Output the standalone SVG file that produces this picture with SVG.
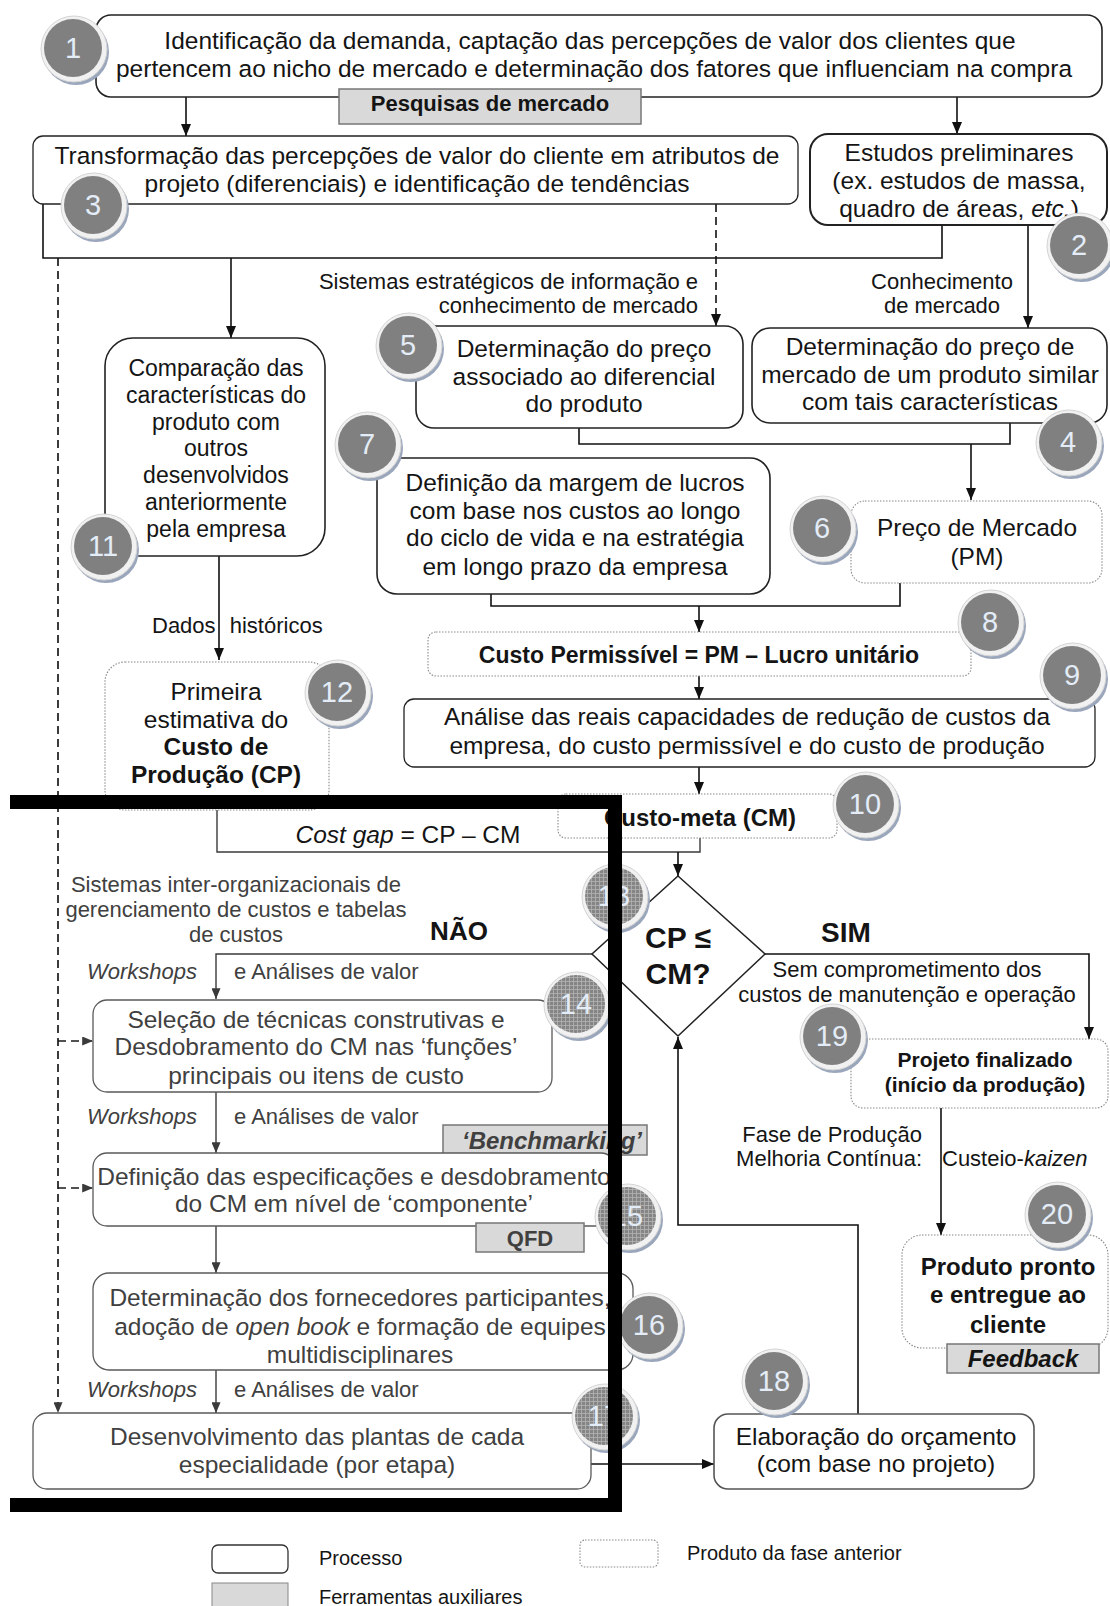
<svg xmlns="http://www.w3.org/2000/svg" xmlns:xlink="http://www.w3.org/1999/xlink" width="1110" height="1606" viewBox="0 0 1110 1606">
  <style>
    text { font-family: "Liberation Sans", Arial, sans-serif; fill: #141414; text-anchor: middle; }
    .t { font-size: 24.5px; }
    .lbl { font-size: 22px; }
    .b { font-weight: bold; }
    .i { font-style: italic; }
    .dim { fill: #404040; }
    .num { font-size: 29px; fill: #e3ecf7; }
    .proc { fill: #fff; stroke: #222; stroke-width: 1.6; }
    .procg { fill: #fff; stroke: #5a5a5a; stroke-width: 1.3; }
    .prod { fill: #fff; stroke: #8a8a8a; stroke-width: 1.1; stroke-dasharray: 1.5 1.5; }
    .tool { fill: #d9d9d9; stroke: #777; stroke-width: 1.5; }
    .ln { fill: none; stroke: #111; stroke-width: 1.6; }
    .lng { fill: none; stroke: #3a3a3a; stroke-width: 1.4; }
    .lnd { fill: none; stroke: #1a1a1a; stroke-width: 1.7; stroke-dasharray: 8 5; }
    .arr { marker-end: url(#ah); }
    .arrg { marker-end: url(#ahg); }
    .dash { stroke-dasharray: 8 5; }
    .bar { fill: #000; }
  </style>
  <defs>
    <marker id="ah" viewBox="0 0 12 10" refX="12" refY="5" markerWidth="12" markerHeight="10" markerUnits="userSpaceOnUse" orient="auto">
      <path d="M0,0 L12,5 L0,10 z" fill="#111"/>
    </marker>
    <marker id="ahg" viewBox="0 0 12 10" refX="12" refY="5" markerWidth="11" markerHeight="9" markerUnits="userSpaceOnUse" orient="auto">
      <path d="M0,0 L12,5 L0,10 z" fill="#3a3a3a"/>
    </marker>
    <pattern id="mesh" width="4" height="4" patternUnits="userSpaceOnUse">
      <rect width="4" height="4" fill="#858585"/>
      <path d="M0,0.5 H4 M0.5,0 V4" stroke="#b4b4b4" stroke-width="0.8"/>
    </pattern>
    <!-- numbered badge: shadow, light ring, grey disc -->
    <g id="badge">
      <circle cx="2" cy="3" r="33" fill="#9aa6bb"/>
      <circle cx="0" cy="0" r="33" fill="#f1f1f1" stroke="#d4d4d4" stroke-width="1"/>
      <circle cx="-1" cy="-1" r="29" fill="#808080"/>
    </g>
    <g id="badgeMesh">
      <circle cx="2" cy="3" r="33" fill="#9aa6bb"/>
      <circle cx="0" cy="0" r="33" fill="#f1f1f1" stroke="#d4d4d4" stroke-width="1"/>
      <circle cx="-1" cy="-1" r="29" fill="url(#mesh)"/>
    </g>
  </defs>

  <rect width="1110" height="1606" fill="#fff"/>

  <!-- connectors -->
  <g id="connectors">
    <path class="ln arr" d="M186,97 V136"/>
    <path class="ln arr" d="M957,97 V134"/>
    <path class="ln" d="M43,204 V258 H942 V225"/>
    <path class="ln arr" d="M231,258 V338"/>
    <path class="ln arr dash" d="M716,204 V326"/>
    <path class="ln arr" d="M1028,225 V328"/>
    <path class="lnd arrg" d="M58,258 V1413"/>
    <path class="lnd arrg" d="M58,1041 H93"/>
    <path class="lnd arrg" d="M58,1188 H93"/>
    <path class="ln" d="M579,428 V444 H1010 V423"/>
    <path class="ln arr" d="M971,444 V500"/>
    <path class="ln arr" d="M219,556 V660"/>
    <path class="ln" d="M491,594 V606 H900 V583"/>
    <path class="ln arr" d="M699,606 V632"/>
    <path class="ln arr" d="M699,676 V699"/>
    <path class="ln arr" d="M699,767 V794"/>
    <path class="lng" d="M217,810 V852 H700 V838"/>
    <path class="ln arr" d="M678,852 V876"/>
    <path class="lng arrg" d="M592,954 H216 V999"/>
    <path class="lng arrg" d="M216,1092 V1153"/>
    <path class="lng arrg" d="M216,1226 V1273"/>
    <path class="lng arrg" d="M216,1370 V1413"/>
    <path class="ln arr" d="M591,1464 H714"/>
    <path class="ln arr" d="M858,1414 V1225 H678 V1037"/>
    <path class="ln arr" d="M765,954 H1089 V1039"/>
    <path class="ln arr" d="M941,1108 V1235"/>
  </g>

  <!-- connector labels -->
  <g id="labels">
    <text class="lbl" x="698" y="289" style="text-anchor:end">Sistemas estratégicos de informação e</text>
    <text class="lbl" x="698" y="313" style="text-anchor:end">conhecimento de mercado</text>
    <text class="lbl" x="942" y="289">Conhecimento</text>
    <text class="lbl" x="942" y="313">de mercado</text>
    <text class="lbl" x="152" y="633" style="text-anchor:start">Dados<tspan dx="8"> históricos</tspan></text>
    <text class="t" x="408" y="843"><tspan class="i">Cost gap</tspan> = CP – CM</text>
    <text class="lbl dim" x="236" y="892">Sistemas inter-organizacionais de</text>
    <text class="lbl dim" x="236" y="917">gerenciamento de custos e tabelas</text>
    <text class="lbl dim" x="236" y="942">de custos</text>
    <text class="b" x="459" y="940" style="font-size:26px">NÃO</text>
    <text class="b" x="846" y="942" style="font-size:28px">SIM</text>
    <text class="lbl" x="907" y="977">Sem comprometimento dos</text>
    <text class="lbl" x="907" y="1002">custos de manutenção e operação</text>
    <text class="lbl dim i" x="197" y="979" style="text-anchor:end">Workshops</text>
    <text class="lbl dim" x="234" y="979" style="text-anchor:start">e Análises de valor</text>
    <text class="lbl dim i" x="197" y="1124" style="text-anchor:end">Workshops</text>
    <text class="lbl dim" x="234" y="1124" style="text-anchor:start">e Análises de valor</text>
    <text class="lbl dim i" x="197" y="1397" style="text-anchor:end">Workshops</text>
    <text class="lbl dim" x="234" y="1397" style="text-anchor:start">e Análises de valor</text>
    <text class="lbl" x="922" y="1142" style="text-anchor:end">Fase de Produção</text>
    <text class="lbl" x="922" y="1166" style="text-anchor:end">Melhoria Contínua:</text>
    <text class="lbl" x="942" y="1166" style="text-anchor:start">Custeio-<tspan class="i">kaizen</tspan></text>
  </g>

  <!-- nodes -->
  <g id="n1">
    <rect class="proc" x="96" y="15" width="1006" height="82" rx="15"/>
    <text class="t" x="590" y="49">Identificação da demanda, captação das percepções de valor dos clientes que</text>
    <text class="t" x="594" y="77">pertencem ao nicho de mercado e determinação dos fatores que influenciam na compra</text>
  </g>
  <g id="t-pesquisas">
    <rect class="tool" x="339" y="89" width="302" height="35"/>
    <text class="b" x="490" y="111" style="font-size:22px">Pesquisas de mercado</text>
  </g>
  <g id="n3">
    <rect class="proc" x="33" y="136" width="765" height="68" rx="10" style="stroke-width:1.3"/>
    <text class="t" x="417" y="164">Transformação das percepções de valor do cliente em atributos de</text>
    <text class="t" x="417" y="192">projeto (diferenciais) e identificação de tendências</text>
  </g>
  <g id="n2">
    <rect class="proc" x="810" y="134" width="297" height="91" rx="18" style="stroke-width:2"/>
    <text class="t" x="959" y="161">Estudos preliminares</text>
    <text class="t" x="959" y="189">(ex. estudos de massa,</text>
    <text class="t" x="959" y="217">quadro de áreas, <tspan class="i">etc.</tspan>)</text>
  </g>
  <g id="n5">
    <rect class="proc" x="416" y="326" width="327" height="102" rx="18"/>
    <text class="t" x="584" y="357">Determinação do preço</text>
    <text class="t" x="584" y="385">associado ao diferencial</text>
    <text class="t" x="584" y="412">do produto</text>
  </g>
  <g id="n4">
    <rect class="proc" x="752" y="328" width="355" height="95" rx="18"/>
    <text class="t" x="930" y="355">Determinação do preço de</text>
    <text class="t" x="930" y="383">mercado de um produto similar</text>
    <text class="t" x="930" y="410">com tais características</text>
  </g>
  <g id="n11">
    <rect class="proc" x="105" y="338" width="220" height="218" rx="28"/>
    <text class="t" x="216" y="376" style="font-size:23px">Comparação das</text>
    <text class="t" x="216" y="403" style="font-size:23px">características do</text>
    <text class="t" x="216" y="430" style="font-size:23px">produto com</text>
    <text class="t" x="216" y="456" style="font-size:23px">outros</text>
    <text class="t" x="216" y="483" style="font-size:23px">desenvolvidos</text>
    <text class="t" x="216" y="510" style="font-size:23px">anteriormente</text>
    <text class="t" x="216" y="537" style="font-size:23px">pela empresa</text>
  </g>
  <g id="n7">
    <rect class="proc" x="377" y="458" width="393" height="136" rx="20"/>
    <text class="t" x="575" y="491">Definição da margem de lucros</text>
    <text class="t" x="575" y="519">com base nos custos ao longo</text>
    <text class="t" x="575" y="546">do ciclo de vida e na estratégia</text>
    <text class="t" x="575" y="575">em longo prazo da empresa</text>
  </g>
  <g id="n6">
    <rect class="prod" x="851" y="501" width="251" height="82" rx="14"/>
    <text class="t" x="977" y="536">Preço de Mercado</text>
    <text class="t" x="977" y="565">(PM)</text>
  </g>
  <g id="n8">
    <rect class="prod" x="428" y="632" width="543" height="44" rx="8"/>
    <text class="b" x="699" y="663" style="font-size:23px">Custo Permissível = PM – Lucro unitário</text>
  </g>
  <g id="n9">
    <rect class="proc" x="404" y="699" width="691" height="68" rx="10" style="stroke-width:1.3"/>
    <text class="t" x="747" y="725">Análise das reais capacidades de redução de custos da</text>
    <text class="t" x="747" y="754">empresa, do custo permissível e do custo de produção</text>
  </g>
  <g id="n12">
    <rect class="prod" x="105" y="662" width="224" height="148" rx="20"/>
    <text class="t" x="216" y="700">Primeira</text>
    <text class="t" x="216" y="728">estimativa do</text>
    <text class="t b" x="216" y="755">Custo de</text>
    <text class="t b" x="216" y="783">Produção (CP)</text>
  </g>
  <g id="n10">
    <rect class="prod" x="558" y="794" width="279" height="44" rx="8"/>
    <text class="b" x="700" y="826" style="font-size:24px">Custo-meta (CM)</text>
  </g>
  <g id="n13">
    <polygon points="678,876 765,954 678,1036 592,954" fill="#fff" stroke="#222" stroke-width="1.5"/>
    <text class="b" x="678" y="948" style="font-size:30px">CP ≤</text>
    <text class="b" x="678" y="984" style="font-size:30px">CM?</text>
  </g>
  <g id="n14">
    <rect class="procg" x="93" y="1000" width="459" height="92" rx="14"/>
    <text class="t dim" x="316" y="1028">Seleção de técnicas construtivas e</text>
    <text class="t dim" x="316" y="1055">Desdobramento do CM nas ‘funções’</text>
    <text class="t dim" x="316" y="1084">principais ou itens de custo</text>
  </g>
  <g id="t-benchmarking">
    <rect class="tool" x="443" y="1125" width="204" height="30"/>
    <text class="b i dim" x="552" y="1149" style="font-size:24px">‘Benchmarking’</text>
  </g>
  <g id="n15">
    <rect class="procg" x="93" y="1153" width="522" height="73" rx="14"/>
    <text class="t dim" x="354" y="1185">Definição das especificações e desdobramento</text>
    <text class="t dim" x="354" y="1212">do CM em nível de ‘componente’</text>
  </g>
  <g id="t-qfd">
    <rect class="tool" x="476" y="1223" width="108" height="29"/>
    <text class="b dim" x="530" y="1246" style="font-size:22px">QFD</text>
  </g>
  <g id="n16">
    <rect class="procg" x="93" y="1273" width="540" height="97" rx="16"/>
    <text class="t dim" x="360" y="1306">Determinação dos fornecedores participantes,</text>
    <text class="t dim" x="360" y="1335">adoção de <tspan class="i">open book</tspan> e formação de equipes</text>
    <text class="t dim" x="360" y="1363">multidisciplinares</text>
  </g>
  <g id="n17">
    <rect class="procg" x="33" y="1413" width="558" height="76" rx="14"/>
    <text class="t dim" x="317" y="1445">Desenvolvimento das plantas de cada</text>
    <text class="t dim" x="317" y="1473">especialidade (por etapa)</text>
  </g>
  <g id="n18">
    <rect class="proc" x="714" y="1414" width="320" height="75" rx="14" style="stroke:#555"/>
    <text class="t" x="876" y="1445">Elaboração do orçamento</text>
    <text class="t" x="876" y="1472">(com base no projeto)</text>
  </g>
  <g id="n19">
    <rect class="prod" x="851" y="1039" width="257" height="69" rx="12"/>
    <text class="b" x="985" y="1067" style="font-size:21px">Projeto finalizado</text>
    <text class="b" x="985" y="1092" style="font-size:21px">(início da produção)</text>
  </g>
  <g id="n20">
    <rect class="prod" x="902" y="1235" width="206" height="113" rx="20"/>
    <text class="b" x="1008" y="1275" style="font-size:24px">Produto pronto</text>
    <text class="b" x="1008" y="1303" style="font-size:24px">e entregue ao</text>
    <text class="b" x="1008" y="1333" style="font-size:24px">cliente</text>
  </g>
  <g id="t-feedback">
    <rect class="tool" x="947" y="1344" width="152" height="29"/>
    <text class="b i" x="1023" y="1367" style="font-size:24px">Feedback</text>
  </g>

  <!-- step numbers -->
  <g id="badges">
    <use xlink:href="#badge" x="74" y="49"/><text class="num" x="73" y="58">1</text>
    <use xlink:href="#badge" x="1080" y="246"/><text class="num" x="1079" y="255">2</text>
    <use xlink:href="#badge" x="94" y="206"/><text class="num" x="93" y="215">3</text>
    <use xlink:href="#badge" x="1069" y="443"/><text class="num" x="1068" y="452">4</text>
    <use xlink:href="#badge" x="409" y="346"/><text class="num" x="408" y="355">5</text>
    <use xlink:href="#badge" x="823" y="529"/><text class="num" x="822" y="538">6</text>
    <use xlink:href="#badge" x="368" y="445"/><text class="num" x="367" y="454">7</text>
    <use xlink:href="#badge" x="991" y="623"/><text class="num" x="990" y="632">8</text>
    <use xlink:href="#badge" x="1073" y="676"/><text class="num" x="1072" y="685">9</text>
    <use xlink:href="#badge" x="866" y="805"/><text class="num" x="865" y="814">10</text>
    <use xlink:href="#badge" x="104" y="547"/><text class="num" x="103" y="556">11</text>
    <use xlink:href="#badge" x="338" y="693"/><text class="num" x="337" y="702">12</text>
    <use xlink:href="#badgeMesh" x="615" y="897"/><text class="num" x="614" y="906">13</text>
    <use xlink:href="#badgeMesh" x="577" y="1005"/><text class="num" x="576" y="1014">14</text>
    <use xlink:href="#badgeMesh" x="628" y="1217"/><text class="num" x="627" y="1226">15</text>
    <use xlink:href="#badge" x="650" y="1326"/><text class="num" x="649" y="1335">16</text>
    <use xlink:href="#badgeMesh" x="605" y="1417"/><text class="num" x="604" y="1426">17</text>
    <use xlink:href="#badge" x="775" y="1382"/><text class="num" x="774" y="1391">18</text>
    <use xlink:href="#badge" x="833" y="1037"/><text class="num" x="832" y="1046">19</text>
    <use xlink:href="#badge" x="1058" y="1215"/><text class="num" x="1057" y="1224">20</text>
  </g>

  <!-- heavy bracket framing steps 13-17 -->
  <g id="frame">
    <rect class="bar" x="10" y="795" width="612" height="14"/>
    <rect class="bar" x="608" y="795" width="14" height="717"/>
    <rect class="bar" x="10" y="1498" width="612" height="14"/>
  </g>

  <!-- legend -->
  <g id="legend">
    <rect class="proc" x="212" y="1545" width="76" height="28" rx="6" style="stroke:#333;stroke-width:1.3"/>
    <text x="319" y="1565" style="font-size:20px;text-anchor:start">Processo</text>
    <rect class="tool" x="212" y="1583" width="76" height="26" style="stroke:#888;stroke-width:1"/>
    <text x="319" y="1604" style="font-size:20px;text-anchor:start">Ferramentas auxiliares</text>
    <rect class="prod" x="580" y="1540" width="78" height="27" rx="5"/>
    <text x="687" y="1560" style="font-size:20px;text-anchor:start">Produto da fase anterior</text>
  </g>
</svg>
